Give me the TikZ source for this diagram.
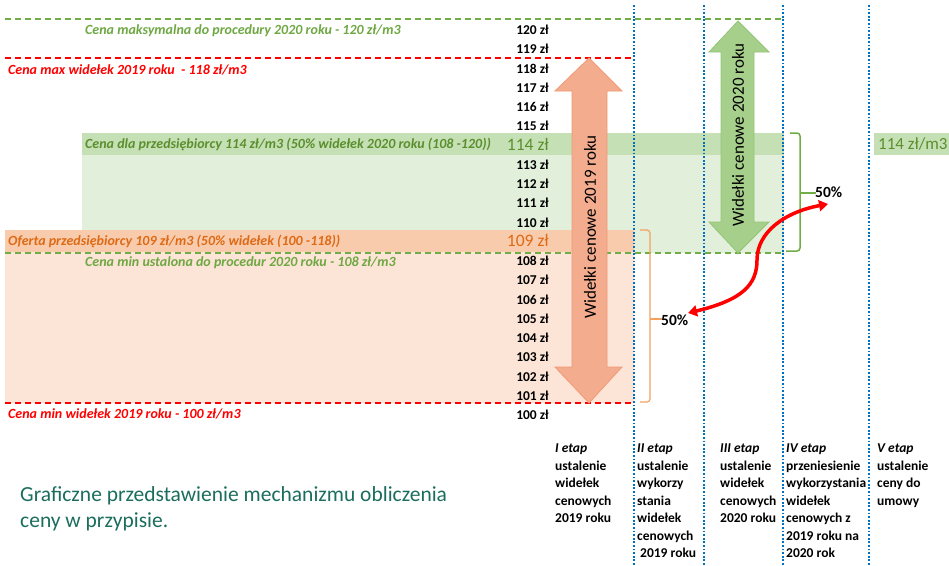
\documentclass[tikz,border=0pt]{standalone}
\usepackage{fontspec}
\setmainfont{Carlito}
\usetikzlibrary{arrows.meta}
\definecolor{gline}{HTML}{70AD47}
\definecolor{gtext}{HTML}{6FA843}
\definecolor{gdark}{HTML}{5B8F2E}
\definecolor{gband}{HTML}{C5E0B4}
\definecolor{glight}{HTML}{E2EFDA}
\definecolor{oband}{HTML}{F8CBAD}
\definecolor{olight}{HTML}{FCE4D6}
\definecolor{otext}{HTML}{DD6A15}
\definecolor{obrace}{HTML}{F4A261}
\definecolor{oarrow}{HTML}{F4AC8E}
\definecolor{oarrowd}{HTML}{F09A76}
\definecolor{garrow}{HTML}{A6CF8B}
\definecolor{garrowd}{HTML}{93C477}
\definecolor{bdot}{HTML}{0070C0}
\definecolor{capt}{HTML}{1B6E5E}
\tikzset{
  gdash/.style={gline, line width=1.3pt, dash pattern=on 6pt off 4pt},
  rdash/.style={red, line width=1.3pt, dash pattern=on 6pt off 4pt},
  bdotted/.style={bdot, line width=1.8pt, dash pattern=on 1.8pt off 1.8pt},
  price/.style={anchor=east, inner sep=0pt, font=\fontsize{13.5}{15}\selectfont\bfseries},
  bigprice/.style={anchor=east, inner sep=0pt, font=\fontsize{17.5}{19}\selectfont},
  lbl/.style={anchor=west, inner sep=0pt, font=\fontsize{14}{16}\selectfont\bfseries\itshape},
  stage/.style={anchor=north west, inner sep=0pt, align=left, font=\fontsize{13.5}{17.5}\selectfont\bfseries},
  pct/.style={anchor=west, inner sep=0pt, font=\fontsize{15.5}{17}\selectfont\bfseries},
}
\begin{document}
\begin{tikzpicture}[x=1pt,y=-1pt]
\useasboundingbox[fill=white] (0,0) rectangle (949,565);
% bands
\fill[glight] (82,133) rectangle (784,253);
\fill[gband] (82,133) rectangle (784,155);
\fill[olight] (5,252) rectangle (634,403);
\fill[oband] (5,230) rectangle (634,252);
\fill[gband] (874,133) rectangle (949,155);
% dashed lines
\draw[gdash] (5,19) -- (783,19);
\draw[rdash] (5,58) -- (634,58);
\draw[gdash] (5,253) -- (783,253);
\draw[rdash] (5,403) -- (634,403);
% dotted verticals
\foreach \xx in {634,704,783,869} \draw[bdotted] (\xx,5) -- (\xx,565);
% price labels
\foreach \p in {120,119,118,117,116,115,113,112,111,110,108,107,106,105,104,103,102,101,100}
  \node[price] (p\p) at (549,{415-(\p-100)*19.25}) {\p{} zł};
\node[bigprice, text=gdark] (p114) at (549,144) {114 zł};
\node[bigprice, text=otext] (p109) at (549,240) {109 zł};
% left labels
\node[lbl, text=gtext] (l120) at (85,31) {Cena maksymalna do procedury 2020 roku - 120 zł/m3};
\node[lbl, text=red] (l118) at (8,70) {Cena max widełek 2019 roku \ - 118 zł/m3};
\node[lbl, text=gdark] (l114) at (85,144) {Cena dla przedsiębiorcy 114 zł/m3 (50\% widełek 2020 roku (108 -120))};
\node[lbl, text=otext] (l109) at (8,241) {Oferta przedsiębiorcy 109 zł/m3 (50\% widełek (100 -118))};
\node[lbl, text=gtext] (l108) at (85,263) {Cena min ustalona do procedur 2020 roku - 108 zł/m3};
\node[lbl, text=red] (l100) at (8,414) {Cena min widełek 2019 roku - 100 zł/m3};
\node[anchor=west, inner sep=0pt, text=gdark, font=\fontsize{17}{19}\selectfont] (r114) at (878,144) {114 zł/m3};
% orange double arrow
\path[fill=oarrow, draw=oarrowd, line width=0.8pt]
  (589,58) -- (622,91) -- (607,91) -- (607,367) -- (622,367) -- (589,403)
  -- (555,367) -- (572,367) -- (572,91) -- (555,91) -- cycle;
\node[rotate=90, font=\fontsize{17}{19}\selectfont] (a2019) at (590,227) {Widełki cenowe 2019 roku};
% green double arrow
\path[fill=garrow, draw=garrowd, line width=0.8pt]
  (738,21) -- (769,52) -- (754,52) -- (754,222) -- (769,222) -- (738,253)
  -- (709,222) -- (721,222) -- (721,52) -- (709,52) -- cycle;
\node[rotate=90, font=\fontsize{17}{19}\selectfont] (a2020) at (738,135) {Widełki cenowe 2020 roku};
% brackets
\draw[obrace, line width=1.2pt, rounded corners=3pt] (640,230) -- (650,230) -- (650,402) -- (640,402);
\draw[obrace, line width=1.2pt] (650,319) -- (662,319);
\node[pct] (pctl) at (661,320) {50\%};
\draw[gline, line width=1.5pt, rounded corners=3pt] (790,133) -- (800,133) -- (800,251) -- (786,251);
\draw[gline, line width=1.5pt] (800,193) -- (816,193);
\node[pct] (pctr) at (815,192) {50\%};
% red curved double arrow
\coordinate (ra) at (688,313);
\coordinate (rb) at (828,204);
\draw[red, line width=3.5pt, {Triangle[length=9pt,width=11pt]}-{Triangle[length=9pt,width=11pt]}]
  (ra) .. controls (742,300) and (757,285) .. (757,260) .. controls (757,232) and (785,212) .. (rb);
% stage texts
\node[stage] (s1) at (555,444) {\textit{I etap}\\ustalenie\\widełek\\cenowych\\2019 roku};
\node[stage] (s2) at (637,444) {\textit{II etap}\\ustalenie\\wykorzy\\stania\\widełek\\cenowych\\\hspace{3pt}2019 roku};
\node[stage] (s3) at (720,444) {\textit{III etap}\\ustalenie\\widełek\\cenowych\\2020 roku};
\node[stage] (s4) at (786,444) {\textit{IV etap}\\przeniesienie\\wykorzystania\\widełek\\cenowych z\\2019 roku na\\2020 rok};
\node[stage] (s5) at (877,444) {\textit{V etap}\\ustalenie\\ceny do\\umowy};
% caption
\node[anchor=north west, inner sep=0pt, align=left, text=capt, font=\fontsize{21.5}{26}\selectfont] (cap) at (20,486) {Graficzne przedstawienie mechanizmu obliczenia\\ceny w przypisie.};
\end{tikzpicture}
\end{document}
